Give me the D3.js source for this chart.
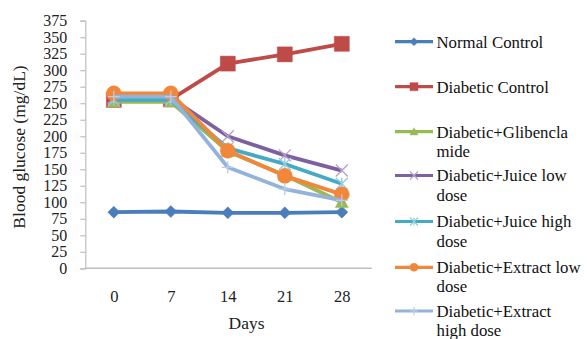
<!DOCTYPE html>
<html>
<head>
<meta charset="utf-8">
<script src="https://cdn.jsdelivr.net/npm/d3@7"></script>
<style>
  html, body { margin: 0; padding: 0; background: #fff; }
  svg text { font-family: "Liberation Serif", "DejaVu Serif", "Times New Roman", serif !important; }
</style>
</head>
<body>
<div id="chart"></div>
<script>
// dữ liệu
const days = ["0", "7", "14", "21", "28"];
const yTicks = [0, 25, 50, 75, 100, 125, 150, 175, 200, 225, 250, 275, 300, 325, 350, 375];

const seriesNames = [
  "Normal Control",
  "Diabetic Control",
  "Diabetic+Glibenclamide",
  "Diabetic+Juice low dose",
  "Diabetic+Juice high dose",
  "Diabetic+Extract low dose",
  "Diabetic+Extract high dose"
];
// nhãn chú giải xuống dòng như bản gốc
const legendLines = [
  ["Normal Control"],
  ["Diabetic Control"],
  ["Diabetic+Glibencla", "mide"],
  ["Diabetic+Juice low", "dose"],
  ["Diabetic+Juice high", "dose"],
  ["Diabetic+Extract low", "dose"],
  ["Diabetic+Extract", "high dose"]
];

const normalControl   = [85, 86, 84, 84, 85];
const diabeticControl = [255, 256, 310, 324, 340];
const glibenclamide   = [252, 252, 177, 141, 100];
const juiceLow        = [258, 258, 200, 171, 148];
const juiceHigh       = [255, 255, 182, 158, 128];
const extractLow      = [265, 265, 178, 140, 112];
const extractHigh     = [260, 260, 153, 120, 103];

const seriesValues = [normalControl, diabeticControl, glibenclamide, juiceLow, juiceHigh, extractLow, extractHigh];

const colors  = ["#4a7ebb", "#be4b48", "#98b954", "#7d60a0", "#46aac5", "#f0873a", "#93b3db"];
const markTint = ["#4a7ebb", "#be4b48", "#98b954", "#b3a2c7", "#93cddd", "#f0873a", "#b9cde5"];
const markers = ["diamond", "square", "triangle", "x", "star", "circle", "plus"];

window.addEventListener("DOMContentLoaded", () => {
  const width = 587, height = 339;
  const plot = { left: 85.3, right: 370.3, top: 20.7, bottom: 268.3 };
  const FONT = "'Liberation Serif', 'DejaVu Serif', serif";

  const svg = d3.select("#chart").append("svg")
    .attr("width", width).attr("height", height);

  const x = d3.scalePoint().domain(days).range([plot.left, plot.right]).padding(0.5);
  const y = d3.scaleLinear().domain([0, 375]).range([plot.bottom, plot.top]);

  // trục Y
  const axY = svg.append("g")
    .attr("transform", `translate(${plot.left},0)`)
    .call(d3.axisLeft(y).tickValues(yTicks).tickSize(5).tickPadding(13))
    .attr("font-family", FONT);
  axY.select(".domain").attr("stroke", "#bfbfbf").attr("stroke-width", 1.2);
  axY.selectAll(".tick line").attr("stroke", "#bfbfbf").attr("stroke-width", 1.2);
  axY.selectAll("text")
    .attr("fill", "#222")
    .style("font-size", "16px");

  // trục X
  const axX = svg.append("g")
    .attr("transform", `translate(0,${plot.bottom})`)
    .call(d3.axisBottom(x).tickSize(0).tickPadding(22))
    .attr("font-family", FONT);
  axX.select(".domain")
    .attr("d", `M${plot.left},0H${plot.right + 1.5}`)
    .attr("stroke", "#bfbfbf").attr("stroke-width", 1.4);
  axX.selectAll("text")
    .attr("fill", "#222")
    .style("font-size", "16.5px");

  // tiêu đề trục
  svg.append("text")
    .attr("transform", "translate(25,147) rotate(-90)")
    .attr("text-anchor", "middle")
    .attr("font-family", FONT)
    .style("font-size", "17.5px")
    .attr("fill", "#222")
    .text("Blood glucose (mg/dL)");

  svg.append("text")
    .attr("x", 246.5).attr("y", 329)
    .attr("text-anchor", "middle")
    .attr("font-family", FONT)
    .style("font-size", "17.5px")
    .attr("fill", "#222")
    .text("Days");

  // hình marker
  function markerPath(type, s) {
    const h = s / 2;
    switch (type) {
      case "diamond":  return `M0,${-h}L${h},0L0,${h}L${-h},0Z`;
      case "square":   return `M${-h},${-h}H${h}V${h}H${-h}Z`;
      case "triangle": return `M0,${-h}L${h},${h * 0.8}L${-h},${h * 0.8}Z`;
      case "circle":   return d3.symbol(d3.symbolCircle, Math.PI * h * h)();
      case "x":        return `M${-h},${-h}L${h},${h}M${-h},${h}L${h},${-h}`;
      case "star":     return `M${-h},${-h}L${h},${h}M${-h},${h}L${h},${-h}M0,${-h}V${h}`;
      case "plus":     return `M0,${-h}V${h}M${-h},0H${h}`;
    }
  }
  const filled = t => !["x", "star", "plus"].includes(t);
  const markSize = { diamond: 12, square: 15, triangle: 13, circle: 15, x: 12, star: 12, plus: 12 };

  const line = d3.line().x((d, i) => x(days[i])).y(d => y(d));

  seriesValues.forEach((vals, si) => {
    const g = svg.append("g");
    g.append("path")
      .attr("d", line(vals))
      .attr("fill", "none")
      .attr("stroke", colors[si])
      .attr("stroke-width", 3.8)
      .attr("stroke-linejoin", "round");
    const t = markers[si];
    g.selectAll("path.m")
      .data(vals)
      .join("path")
      .attr("class", "m")
      .attr("transform", (d, i) => `translate(${x(days[i])},${y(d)})`)
      .attr("d", markerPath(t, markSize[t]))
      .attr("fill", filled(t) ? colors[si] : "none")
      .attr("stroke", markTint[si])
      .attr("stroke-width", filled(t) ? 0.5 : 1.3);
  });

  // chú giải
  const legY = [41.7, 86.7, 131.7, 175.5, 221.5, 267.3, 311];
  const leg = svg.append("g").attr("font-family", FONT);
  seriesNames.forEach((name, si) => {
    const gy = legY[si];
    const g = leg.append("g").attr("transform", `translate(0,${gy})`);
    g.append("line")
      .attr("x1", 395).attr("x2", 433).attr("y1", 0).attr("y2", 0)
      .attr("stroke", colors[si]).attr("stroke-width", 3.2);
    const t = markers[si];
    g.append("path")
      .attr("transform", "translate(414,0)")
      .attr("d", markerPath(t, 8))
      .attr("fill", filled(t) ? colors[si] : "none")
      .attr("stroke", markTint[si])
      .attr("stroke-width", filled(t) ? 0.5 : 1.2);
    legendLines[si].forEach((ln, li) => {
      g.append("text")
        .attr("x", 436.5)
        .attr("y", 5.8 + li * 19.3)
        .style("font-size", "16.8px")
        .attr("fill", "#111")
        .text(ln);
    });
  });
});
</script>
</body>
</html>
